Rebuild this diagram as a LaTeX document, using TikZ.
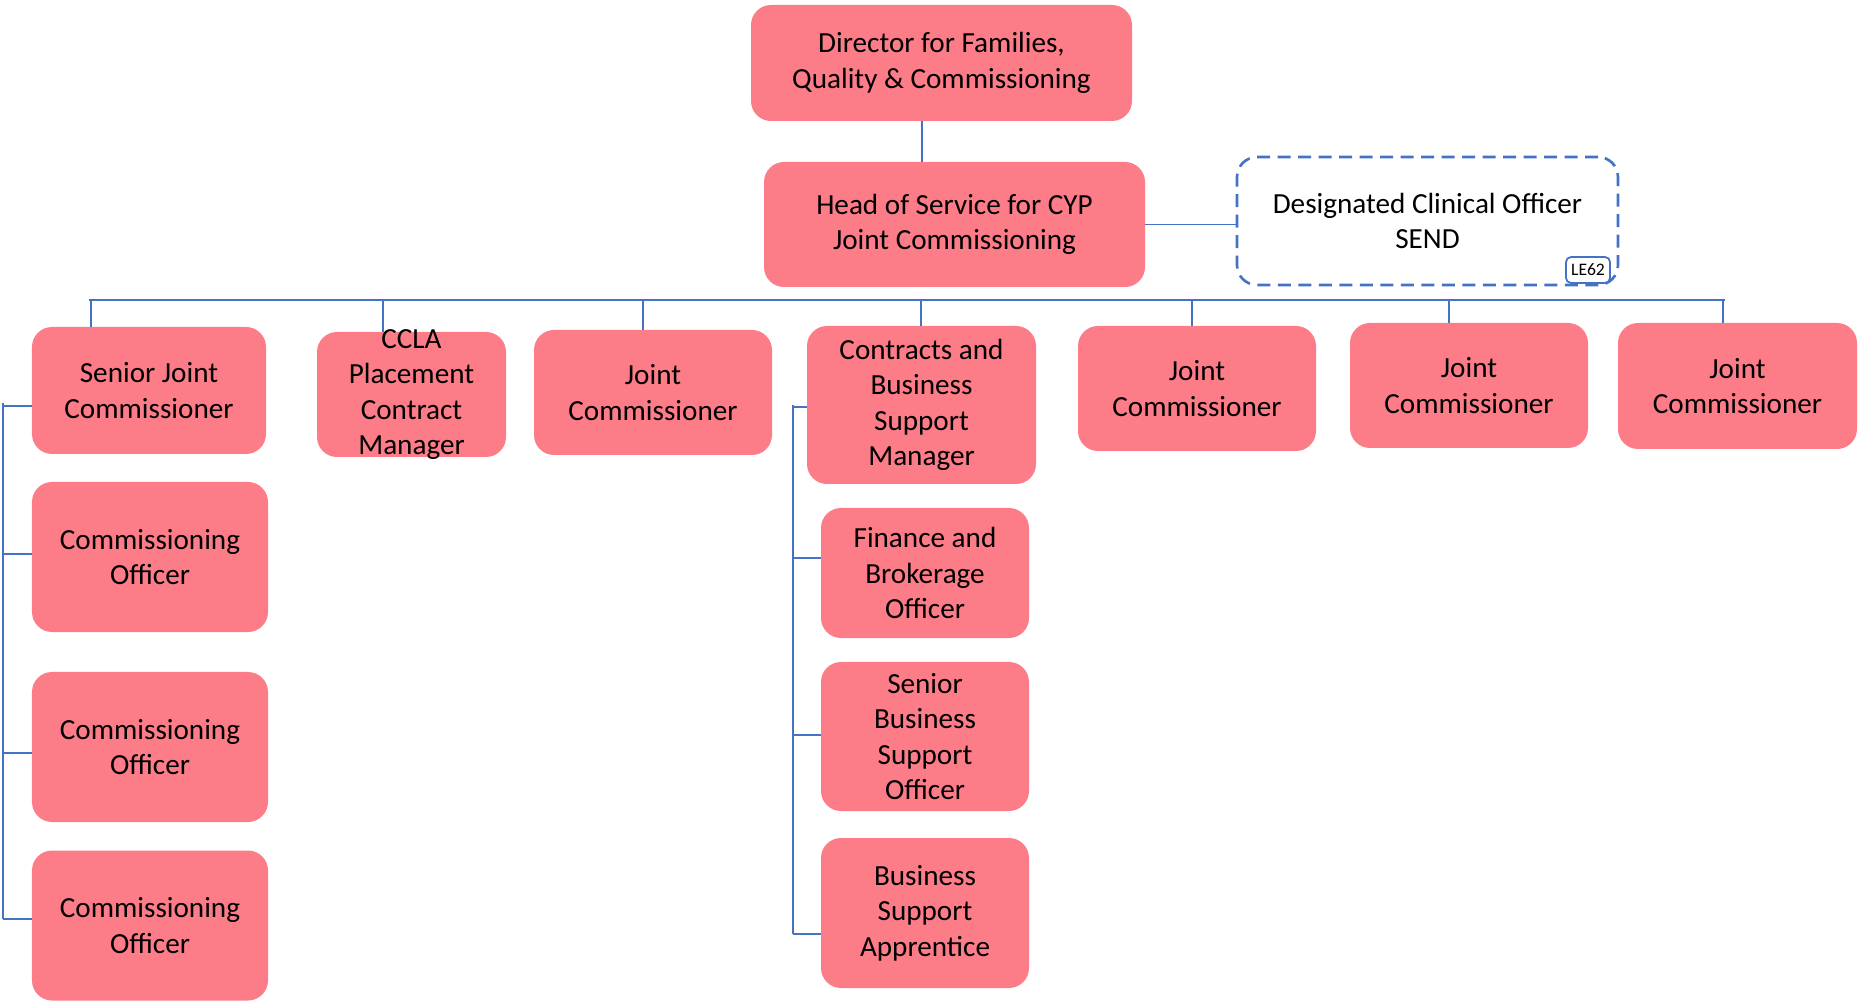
\documentclass[tikz,border=0pt]{standalone}
\usepackage{fontspec}
\setmainfont{Carlito}
\usepackage{xcolor}
\usepackage{tikz}
\usetikzlibrary{positioning,calc}
\definecolor{RolePink}{RGB}{252,124,136}
\definecolor{LinkBlue}{RGB}{68,114,196}

\begin{document}
\begin{tikzpicture}[
                x=0.2mm, y=-0.2mm,
                % role boxes: width and height
                role/.style 2 args={fill=RolePink, draw=none, rounded corners=4mm, align=center,
                    inner sep=0pt, minimum width=#1, minimum height=#2,
                    font=\fontsize{16.6pt}{20.2pt}\selectfont},
                vacant/.style={draw=LinkBlue, line width=1.5pt, dash pattern=on 2.6mm off 1.5mm,
                    rounded corners=4mm, align=center, inner sep=0pt, minimum width=76.2mm,
                    minimum height=25.6mm, font=\fontsize{16.6pt}{20.2pt}\selectfont},
                tag/.style={draw=LinkBlue, fill=white, line width=1pt, rounded corners=1mm,
                    inner sep=0pt, minimum width=8.8mm, minimum height=5.2mm, font=\fontsize{10pt}{12pt}\selectfont},
                link/.style={draw=LinkBlue, line width=0.6pt}
            ]
                \useasboundingbox (0,0) rectangle (1864,1002);

                % Top
                \node[role={76.2mm}{23.2mm}] (dir) at (941.5,63) {Director for Families,\\Quality \& Commissioning};
                \node[role={76.2mm}{25mm}] (head) at (954.5,224.5) {Head of Service for CYP\\Joint Commissioning};
                \node[vacant] (dco) at (1427.5,221) {Designated Clinical Officer\\SEND};
                \node[tag] (le62) at (1588,270) {LE62};

                % Row of team leads
                \node[role={46.8mm}{25.4mm}] (sjc) at (149,390.5) {Senior Joint\\Commissioner};
                \node[role={37.8mm}{25mm}] (ccla) at (411.5,394.5) {};
                \node[align=center, font=\fontsize{16.6pt}{20.2pt}\selectfont] at (ccla) {CCLA\\Placement\\Contract\\Manager};
                \node[role={47.6mm}{25mm}] (jc1) at (653,392.5) {Joint\\Commissioner};
                \node[role={45.8mm}{31.6mm}] (cbsm) at (921.5,405) {Contracts and\\Business\\Support\\Manager};
                \node[role={47.6mm}{25mm}] (jc2) at (1197,388.5) {Joint\\Commissioner};
                \node[role={47.6mm}{25mm}] (jc3) at (1469,385.5) {Joint\\Commissioner};
                \node[role={47.8mm}{25.2mm}] (jc4) at (1737.5,386) {Joint\\Commissioner};

                % Left column
                \node[role={47.2mm}{30mm}] (co1) at (150,557) {Commissioning\\Officer};
                \node[role={47.2mm}{30mm}] (co2) at (150,747) {Commissioning\\Officer};
                \node[role={47.2mm}{30mm}] (co3) at (150,925.5) {Commissioning\\Officer};

                % Business support column
                \node[role={41.6mm}{26mm}] (fbo) at (925,573) {Finance and\\Brokerage\\Officer};
                \node[role={41.6mm}{29.8mm}] (sbso) at (925,736.5) {Senior\\Business\\Support\\Officer};
                \node[role={41.6mm}{30mm}] (bsa) at (925,913) {Business\\Support\\Apprentice};

                % Connectors
                \coordinate (dx) at (922,0);
                \draw[link] (dir.south -| dx) -- (head.north -| dx);
                \draw[link] (head.east) -- (dco.west |- head.east);
                \coordinate (busL) at (89,300);
                \coordinate (busR) at (1725,300);
                \draw[link] (busL) -- (busR);
                \foreach \n/\x in {sjc/91, ccla/383, jc1/643, cbsm/921, jc2/1192, jc3/1449, jc4/1723}{
                    \path (\x,300) coordinate (t);
                    \draw[link] (t) -- (t |- \n.north);
                }
                % Brackets
                \draw[link] (3,403) -- (3,919);
                \foreach \n/\y in {sjc/406, co1/554, co2/753, co3/919}{
                    \path (3,\y) coordinate (t);
                    \draw[link] (t) -- (t -| \n.west);
                }
                \draw[link] (793,405) -- (793,934);
                \foreach \n/\y in {cbsm/407, fbo/558, sbso/735, bsa/934}{
                    \path (793,\y) coordinate (t);
                    \draw[link] (t) -- (t -| \n.west);
                }

            \end{tikzpicture}
\end{document}
